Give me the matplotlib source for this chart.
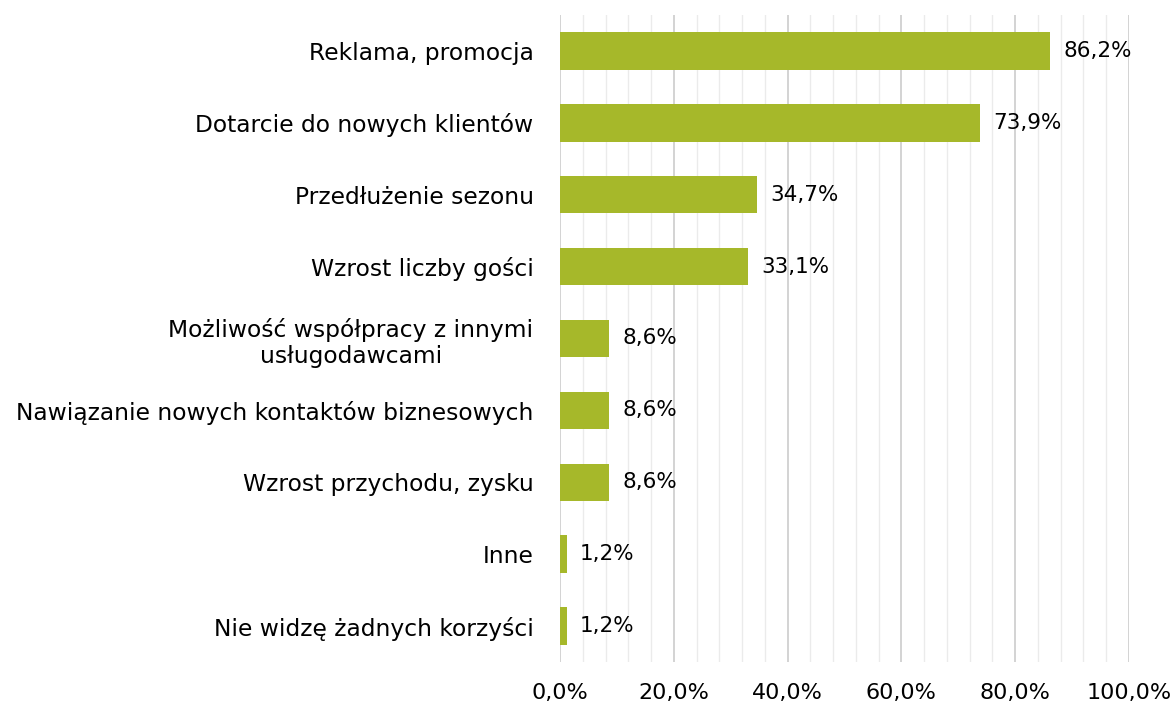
import matplotlib
matplotlib.use("Agg")
import matplotlib.pyplot as plt
import numpy as np

categories = [
    "Reklama, promocja",
    "Dotarcie do nowych klientów",
    "Przedłużenie sezonu",
    "Wzrost liczby gości",
    "Możliwość współpracy z innymi\nusługodawcami",
    "Nawiązanie nowych kontaktów biznesowych",
    "Wzrost przychodu, zysku",
    "Inne",
    "Nie widzę żadnych korzyści",
]
values = [86.2, 73.9, 34.7, 33.1, 8.6, 8.6, 8.6, 1.2, 1.2]
xticks = [0, 20, 40, 60, 80, 100]
xtick_labels = ["0,0%", "20,0%", "40,0%", "60,0%", "80,0%", "100,0%"]

plt.rcParams['font.family'] = ['DejaVu Sans']

fig = plt.figure(figsize=(11.71, 7.11), dpi=100)
ax = fig.add_axes([560/1171, 1 - 662/711, (1129-560)/1171, (662-15)/711])

y = np.arange(len(categories))
ax.barh(y, values, height=0.52, color="#A6B82A", zorder=3)
ax.set_ylim(len(categories) - 0.5, -0.5)
ax.set_xlim(0, 100)

for yi, v in zip(y, values):
    ax.text(v + 2.3, yi, f"{v:.1f}%".replace(".", ","), va="center", ha="left",
            fontsize=15.5, color="#000000")

ax.set_yticks(y)
ax.set_yticklabels(categories, fontsize=16.8)
for lbl in ax.get_yticklabels():
    lbl.set_multialignment("center")
ax.set_xticks(xticks)
ax.set_xticklabels(xtick_labels, fontsize=16)
ax.set_xticks(np.arange(0, 101, 4), minor=True)
ax.tick_params(axis="both", which="both", length=0)
ax.tick_params(axis="y", pad=19)
ax.tick_params(axis="x", pad=15)

ax.grid(axis="x", which="major", color="#D0D0D0", linewidth=1.3, zorder=0)
ax.grid(axis="x", which="minor", color="#EBEBEB", linewidth=1.0, zorder=0)
for s in ax.spines.values():
    s.set_visible(False)

fig.savefig("out.png", dpi=100)
